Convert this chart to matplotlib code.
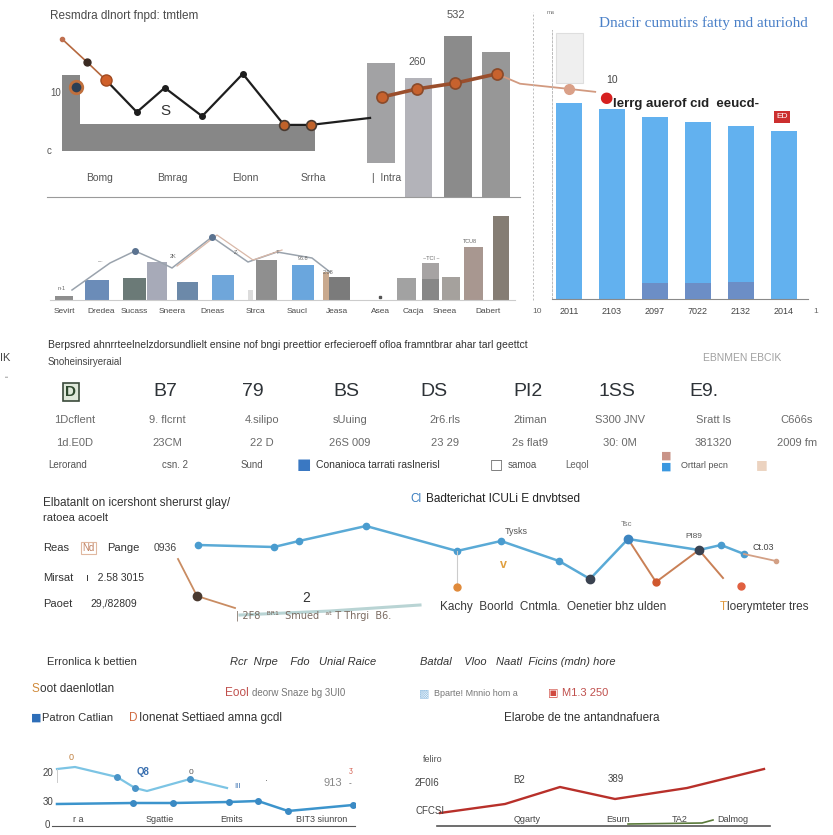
import matplotlib
matplotlib.use("Agg")
import matplotlib.pyplot as plt

plt.rcParams['font.family'] = ['Liberation Sans', 'DejaVu Sans']

W, H = 833, 835

# ---- panel A: grey bars with zigzag lines ----
a_bar_x = [0.51, 3.18, 7.06, 7.85, 8.69, 9.49]
a_bar_w = [0.38, 4.97, 0.59, 0.57, 0.59, 0.59]
a_bar_low = [0, 0, -2.1, -7.9, -7.9, -7.9]
a_bar_top = [13.1, 4.66, 15.2, 12.6, 19.8, 17.1]
a_bar_col = ['#878787', '#878787', '#a2a2a4', '#b3b3b9', '#8b8b8b', '#979797']
a_black_x = [1.25, 1.90, 2.49, 3.28, 4.14, 5.01, 5.58, 6.83]
a_black_y = [12.2, 6.7, 10.9, 6.0, 13.3, 4.5, 4.5, 5.7]
a_orange_l_x = [0.32, 0.85, 1.25]
a_orange_l_y = [19.3, 15.3, 12.2]
a_orange_r_x = [7.08, 7.82, 8.63, 9.51]
a_orange_r_y = [9.3, 10.7, 11.7, 13.3]
a_tail_x = [9.51, 10.0, 11.04, 11.59]
a_tail_y = [13.3, 11.6, 10.7, 10.2]
a_xlabels = ['Bomg', 'Bmrag', 'Elonn', 'Srrha', '|  Intra']

# ---- panel B: blue bars ----
b_years = ['2011', '2103', '2097', '7022', '2132', '2014']
b_values = [72.9, 70.6, 67.7, 65.8, 64.3, 62.5]
b_dark = [0, 0, 5.9, 5.9, 6.3, 0]
b_ghost_low = 80.3
b_ghost_top = 98.9

# ---- panel C: small bar strip ----
c_labels = ['Sevirt', 'Dredea', 'Sucass', 'Sneera', 'Dneas', 'Strca',
            'Saucl', 'Jeasa', 'Asea', 'Cacja', 'Sneea', 'Dabert']
c_pos = [1.4, 4.7, 8.45, 10.7, 13.75, 17.3, 20.05, 21.65, 25.25, 27.55,
         28.95, 35.65, 38.05, 40.1, 42.35, 45.05]
c_width = [1.8, 2.4, 2.3, 2.0, 2.1, 2.2, 0.5, 2.1, 2.2, 0.6, 2.1, 1.9, 1.7, 1.8, 1.9, 1.6]
c_values = [4, 20, 22, 38, 18, 25, 10, 40, 35, 28, 23, 22, 37, 23, 53, 84]
c_colors = ['#8e8e8e', '#6b8cb8', '#6b7a77', '#a7aab8', '#6c89a9', '#6fa6da', '#dcdcdc',
            '#8f8f8f', '#6aa6dd', '#c9a98e', '#7b7b7b', '#a2a2a2', '#a6a3a3', '#a5a19d',
            '#a89790', '#857d74']
c_line_x = [2.2, 6.0, 8.5, 11.0, 12.2, 16.2, 19.8, 22.7, 26.2, 28.0]
c_line_y = [10, 37, 49, 38, 32, 63, 38, 48, 42, 28]

# ---- panel E: long line chart ----
e_blue_x = [2.8, 10.4, 12.9, 19.6, 28.7, 33.1, 38.9, 42.0, 45.8, 52.9, 55.1, 57.4]
e_blue_y = [75, 73, 79, 94, 69, 79, 59, 41, 81, 70, 75, 66]
e_brown1_x = [0.8, 2.7, 6.5]
e_brown1_y = [61, 24, 12]
e_brown2_x = [45.8, 48.6, 52.9, 55.3]
e_brown2_y = [81, 38, 70, 42]
e_tail_x = [57.4, 60.6]
e_tail_y = [66, 59]
e_teal_x = [7.0, 16.0, 25.0]
e_teal_y = [5, 9, 15]

# ---- panel F: bottom charts ----
f_light_x = [5, 23, 65, 83, 95, 138, 175]
f_light_y = [57, 59, 49, 38, 35, 47, 38]
f_dark_x = [5, 81, 121, 177, 206, 236, 301]
f_dark_y = [22, 23, 23, 24, 25, 15, 21]
g_red_x = [3, 68, 123, 178, 250, 327]
g_red_y = [13, 22, 39, 27, 38, 57]
g_green_x = [191, 265, 276]
g_green_y = [2, 3, 6]

fig = plt.figure(figsize=(W / 100, H / 100), dpi=100)
fig.patch.set_facecolor('white')


def box(x0, y0, x1, y1):
    ax = fig.add_axes([x0 / W, 1 - y1 / H, (x1 - x0) / W, (y1 - y0) / H])
    ax.patch.set_alpha(0)
    for s in ax.spines.values():
        s.set_visible(False)
    ax.set_xticks([])
    ax.set_yticks([])
    return ax


def T(x, y, s, size=7.5, color='#3c3c3c', ha='left', **kw):
    fig.text(x / W, 1 - y / H, s, fontsize=size, color=color, ha=ha, va='center', **kw)


# panel A
ax = box(47, 30, 520, 197)
ax.set_xlim(0, 10)
ax.set_ylim(-7.93, 20.86)
for x, w, lo, hi, c in zip(a_bar_x, a_bar_w, a_bar_low, a_bar_top, a_bar_col):
    ax.bar(x, hi - lo, w, bottom=lo, color=c, zorder=1)
ax.plot(a_black_x, a_black_y, color='#1e1e1e', lw=1.6, zorder=3)
ax.plot(a_black_x[1:5], a_black_y[1:5], 'o', color='#1e1e1e', ms=4, zorder=4)
ax.plot(a_black_x[5:7], a_black_y[5:7], 'o', color='#c0622a', mec='#4a3a30', mew=1.2, ms=7, zorder=4)
ax.plot(a_orange_l_x, a_orange_l_y, color='#b5683e', lw=1.2, zorder=3)
ax.plot(a_orange_l_x[0], a_orange_l_y[0], 'o', color='#c07050', ms=3, zorder=4)
ax.plot(a_orange_l_x[1], a_orange_l_y[1], 'o', color='#3a2a22', ms=5, zorder=4)
ax.plot(a_orange_l_x[2], a_orange_l_y[2], 'o', color='#d0602a', mec='#a04a20', ms=8, zorder=4)
ax.plot(0.61, 11.0, 'o', color='#2d3f55', mec='#c0703e', mew=2, ms=9, zorder=4)
ax.plot(a_tail_x, a_tail_y, color='#d29a80', lw=1.3, zorder=2, clip_on=False)
ax.plot(a_tail_x[2], a_tail_y[2], 'o', color='#daa088', ms=7, zorder=3, clip_on=False)
ax.plot(a_orange_r_x, a_orange_r_y, color='#9a4e2c', lw=2.6, zorder=3)
ax.plot(a_orange_r_x, a_orange_r_y, 'o', color='#c7622e', mec='#8a4a2a', mew=1.2, ms=8, zorder=4)
ax.spines['bottom'].set_visible(True)
ax.spines['bottom'].set_color('#9a9a9a')

T(50, 16, 'Resmdra dlnort fnpd: tmtlem', size=8.5, color='#4a4a4a')
T(456, 15, '532', size=8, ha='center', color='#555555')
T(417, 62, '260', size=7.5, ha='center', color='#555555')
T(165, 111, 'S', size=11, ha='center', color='#333333')
T(50, 93, '10', size=7, color='#555555')
T(47, 151, 'c', size=7, color='#555555')
for x, s in zip([100, 172, 245, 313, 387], a_xlabels):
    T(x, 178, s, size=7.5, ha='center', color='#555555')

# panel B
ax = box(552, 30, 808, 299)
ax.set_xlim(-0.4, 5.55)
ax.set_ylim(0, 100)
xs = range(len(b_years))
ax.bar(0, b_ghost_top - b_ghost_low, 0.62, bottom=b_ghost_low,
       color='#efefef', edgecolor='#dedede', lw=0.8, zorder=1)
ax.bar(xs, b_values, 0.6, color='#62b1ef', zorder=2)
ax.bar(xs, b_dark, 0.6, color='#6c8ec6', zorder=3)
ax.spines['bottom'].set_visible(True)
ax.spines['bottom'].set_color('#8a8a8a')
ax.spines['left'].set_visible(True)
ax.spines['left'].set_color('#bbbbbb')
ax.spines['left'].set_linestyle((0, (2, 2)))
ax.spines['left'].set_linewidth(0.7)
line = plt.Line2D([533 / W, 533 / W], [1 - 300 / H, 1 - 12 / H], transform=fig.transFigure,
                  color='#bbbbbb', lw=0.7, ls=(0, (2, 2)))
fig.add_artist(line)
T(703, 23, 'Dnacir cumutirs fatty md aturiohd', size=11, ha='center', color='#4a80c8',
  family='Liberation Serif')
T(551, 13, 'ms', size=4.5, ha='center', color='#777777')
T(606, 80, '10', size=7.5, color='#444444')
T(599, 98, '\u25cf', size=11, color='#d62020', family='DejaVu Sans')
T(613, 104, 'lerrg auerof c\u0131d  eeucd-', size=9.5, color='#222222', weight='bold')
T(782, 117, 'ED', size=6, ha='center', color='white',
  bbox=dict(boxstyle='square,pad=0.25', fc='#cc2f2f', ec='none'))
for i, s in enumerate(b_years):
    T(569 + i * 43, 311, s, size=6.5, ha='center', color='#444444')
T(537, 311, '10', size=6, ha='center', color='#666666')
T(816, 311, '1', size=6, ha='center', color='#666666')

# panel C
ax = box(50, 205, 515, 300)
ax.set_xlim(0, 46.5)
ax.set_ylim(0, 95)
ax.bar(c_pos, c_values, c_width, color=c_colors, zorder=2)
ax.bar(c_pos[12], 21, c_width[12], color='#878787', zorder=3)
ax.plot(c_line_x, c_line_y, color='#9aa3ad', lw=1.1, zorder=4)
ax.plot([v + 0.5 for v in c_line_x[4:8]], [v + 2 for v in c_line_y[4:8]], color='#d9b8a8', lw=0.9, zorder=4)
ax.plot([c_line_x[2], c_line_x[5]], [c_line_y[2], c_line_y[5]], 'o', color='#5b7390', ms=4, zorder=5)
ax.plot(33.0, 3, 's', color='#555555', ms=1.5)
ax.spines['bottom'].set_visible(True)
ax.spines['bottom'].set_color('#cccccc')
for x, y, s in [(62, 289, 'n\u00b71'), (100, 262, '\u2012\u00b7'), (173, 257, '2K'),
                (236, 253, 'Z\u00b7'), (276, 252, '\u00b7 T'), (303, 258, '96.8'),
                (328, 272, '2.08'), (431, 258, '~TCI ~'), (470, 241, 'TCU8')]:
    T(x, y, s, size=4, ha='center', color='#666666')
for x, s in zip([64, 101, 134, 172, 212, 255, 297, 337, 380, 413, 445, 488], c_labels):
    T(x, 311, s, size=6, ha='center', color='#4a4a4a')

# panel D: text table
T(48, 345, 'Berpsred ahnrrteelnelzdorsundlielt ensine nof bngi preettior erfecieroeff '
  'ofloa framntbrar ahar tarl geettct', size=7.5, color='#333333')
T(48, 362, 'Snoheinsiryeraial', size=7, color='#444444')
T(742, 358, 'EBNMEN EBCIK', size=7.5, ha='center', color='#a0a0a0')
T(0, 358, 'IK', size=8, color='#444444')
T(5, 378, '\u2022\u2022', size=4, color='#888888')
T(71, 392, 'D', size=11, ha='center', color='#2f4a2f', weight='bold',
  bbox=dict(boxstyle='square,pad=0.15', fc='#dfe8da', ec='#3b4a3b', lw=1.2))
big = ['B7', '79', 'BS', 'DS', 'PI2', '1SS', 'E9.']
for x, s in zip([165, 253, 346, 434, 528, 617, 704], big):
    T(x, 392, s, size=14, ha='center', color='#2e3338')
row2 = ['1Dcflent', '9. flcrnt', '4.silipo', 'sUuing', '2r6.rls', '2timan', 'S300 JNV', 'Sratt ls', 'C6\u00f46s']
row3 = ['1d.E0D', '23CM', '22 D', '26S 009', '23 29', '2s flat9', '30: 0M', '381320', '2009 fm']
for x, s, t in zip([75, 167, 262, 350, 445, 530, 620, 713, 797], row2, row3):
    T(x, 420, s, size=8, ha='center', color='#6a6a6a')
    T(x, 443, t, size=8, ha='center', color='#6a6a6a')
T(48, 465, 'Lerorand', size=7, color='#555555')
T(162, 465, 'csn. 2', size=7, color='#555555')
T(241, 465, 'Sund', size=7, color='#555555')
T(297, 465, '\u25a0', size=11, color='#3a78c2', family='DejaVu Sans')
T(316, 465, 'Conanioca tarrati raslnerisl', size=7.5, color='#333333')
T(490, 464, '\u25a1', size=10, color='#666666', family='DejaVu Sans')
T(508, 465, 'samoa', size=7, color='#555555')
T(565, 465, 'Leqol', size=7, color='#666666')
T(661, 456, '\u25a0', size=8, color='#c99488', family='DejaVu Sans')
T(661, 467, '\u25a0', size=8, color='#3a98e0', family='DejaVu Sans')
T(681, 466, 'Orttarl pecn', size=6.5, color='#555555')
T(756, 465, '\u25a0', size=9, color='#ecd3c0', family='DejaVu Sans')

# panel E
ax = box(170, 515, 790, 620)
ax.set_xlim(0, 62)
ax.set_ylim(0, 105)
ax.plot(e_teal_x, e_teal_y, color='#b9d4d4', lw=2.2)
ax.plot(e_brown1_x, e_brown1_y, color='#c98c62', lw=1.3)
ax.plot(e_brown1_x[1], e_brown1_y[1], 'o', color='#4a3a30', ms=6)
ax.plot(e_brown2_x, e_brown2_y, color='#c98056', lw=1.4)
ax.plot(e_blue_x, e_blue_y, color='#5aaad6', lw=1.8)
ax.plot(e_blue_x, e_blue_y, 'o', color='#4a9ccf', ms=4.5)
ax.plot(e_tail_x, e_tail_y, color='#d3a085', lw=1.3)
ax.plot(e_tail_x[1], e_tail_y[1], 'o', color='#d3a085', ms=3)
ax.plot([42.0, 52.9], [41, 70], 'o', color='#3a4250', ms=6)
ax.plot(48.6, 38, 'o', color='#d0582e', ms=5)
ax.plot([28.7, 28.7], [69, 33], color='#cccccc', lw=0.8)
ax.plot(28.7, 33, 'o', color='#e08a3a', ms=5)
ax.plot(57.1, 34, 'o', color='#e06040', ms=5)
ax.plot(45.8, 81, 'o', color='#3d85c0', ms=6)
T(503, 565, 'v', size=9, ha='center', color='#e0a040', weight='bold')
T(43, 503, 'Elbatanlt on icershont sherurst glay/', size=8.5, color='#333333')
T(43, 518, 'ratoea acoelt', size=8, color='#333333')
T(43, 548, 'Reas', size=8, color='#333333')
T(82, 548, 'Nd', size=7, color='#c08060',
  bbox=dict(boxstyle='square,pad=0.15', fc='white', ec='#e0b8a0', lw=0.8))
T(107, 548, 'Pange', size=8, color='#333333')
T(154, 548, '0936', size=7.5, color='#444444')
T(43, 578, 'Mirsat', size=8, color='#333333')
T(86, 578, '\u0131   2.58 3015', size=7.5, color='#333333')
T(43, 604, 'Paoet', size=8, color='#333333')
T(90, 604, '29,/82809', size=7.5, color='#333333')
T(410, 499, 'Cl', size=8.5, color='#3c7fc0')
T(426, 499, 'Badterichat ICULi E dnvbtsed', size=8.5, color='#222222')
T(306, 598, '2', size=10, ha='center', color='#333333')
T(236, 616, '| 2F8  \u1d2e\u1d3f\u00b9  Smued  \u1d43\u1d57 T Thrgi  B6.', size=7, color='#7a6a60',
  family=['DejaVu Sans'])
T(440, 607, 'Kachy  Boorld  Cntmla.  Oenetier bhz ulden', size=8.5, color='#3a3a3a')
T(720, 607, 'T', size=8.5, color='#e09a40')
T(727, 607, 'loerymteter tres', size=8.5, color='#3a3a3a')
T(505, 532, 'Tysks', size=6.5, color='#555555')
T(627, 524, 'Tsc', size=5.5, ha='center', color='#777777')
T(694, 537, 'Pl89', size=6, ha='center', color='#555555')
T(763, 547, 'Ct.03', size=6.5, ha='center', color='#444444')

# panel F text block
T(47, 662, 'Erronlica k bettien', size=8, color='#333333')
T(230, 662, 'Rcr  Nrpe    Fdo   Unial Raice', size=8, color='#333333', style='italic')
T(420, 662, 'Batdal    Vloo   Naatl  Ficins (mdn) hore', size=8, color='#333333', style='italic')
T(32, 689, 'S', size=8.5, color='#d08a3a')
T(40, 689, 'oot daenlotlan', size=8.5, color='#333333')
T(225, 693, 'Eool', size=8.5, color='#c0504d')
T(252, 693, 'deorw Snaze bg 3UI0', size=7, color='#777777')
T(419, 693, '\u25a9', size=8, color='#9cc4e4', family='DejaVu Sans')
T(434, 693, 'Bparte! Mnnio hom a', size=6.5, color='#777777')
T(548, 693, '\u25a3', size=8, color='#d04a40', family='DejaVu Sans')
T(562, 693, 'M1.3 250', size=8, color='#c0504d')
T(31, 718, '\u25a0', size=8, color='#2e6eb8', family='DejaVu Sans')
T(42, 718, 'Patron Catlian', size=8, color='#333333')
T(129, 718, 'D', size=8.5, color='#d06a40')
T(139, 718, 'Ionenat Settiaed amna gcdl', size=8.5, color='#333333')
T(582, 718, 'Elarobe de tne antandnafuera', size=8.5, ha='center', color='#333333')

# bottom left chart
ax = box(52, 750, 355, 826)
ax.set_xlim(0, 303)
ax.set_ylim(0, 76)
ax.plot(f_light_x, f_light_y, color='#7cc4e4', lw=1.6)
ax.plot([f_light_x[2], f_light_x[3], f_light_x[5]], [f_light_y[2], f_light_y[3], f_light_y[5]],
        'o', color='#4a94c8', ms=4)
ax.plot(f_dark_x, f_dark_y, color='#3c94cc', lw=1.8)
ax.plot(f_dark_x[1:], f_dark_y[1:], 'o', color='#3a8ac4', ms=4)
ax.plot([5, 5], [57, 44], color='#cccccc', lw=0.7)
ax.spines['bottom'].set_visible(True)
ax.spines['bottom'].set_color('#555555')
T(43, 773, '20', size=7, color='#444444')
T(43, 802, '30', size=7, color='#444444')
T(45, 825, '0', size=7, color='#444444')
T(71, 758, '0', size=6.5, ha='center', color='#c08040')
T(143, 772, 'Q8', size=7, ha='center', color='#3a70b0', weight='bold')
T(191, 772, '0', size=6, ha='center', color='#555555')
T(237, 786, 'III', size=5.5, ha='center', color='#3a70b0')
T(266, 782, '\u00b7', size=6, ha='center', color='#444444')
T(333, 783, '913', size=8, ha='center', color='#888888')
T(351, 771, '\u0292', size=5, ha='center', color='#d05040')
T(350, 784, '-', size=6, ha='center', color='#555555')
for x, s in zip([78, 160, 232, 322], ['r a', 'Sgattie', 'Emits', 'BIT3 siunron']):
    T(x, 819, s, size=6.5, ha='center', color='#444444')

# bottom right chart
ax = box(437, 750, 770, 826)
ax.set_xlim(0, 333)
ax.set_ylim(0, 76)
ax.plot(g_red_x, g_red_y, color='#b8302a', lw=1.7)
ax.plot(g_green_x, g_green_y, color='#5a7a3a', lw=1.2)
ax.spines['bottom'].set_visible(True)
ax.spines['bottom'].set_color('#555555')
ax.spines['bottom'].set_linewidth(1.2)
T(423, 759, 'feliro', size=6.5, color='#555555')
T(415, 783, '2F0I6', size=7, color='#444444')
T(415, 811, 'CFCSI', size=7, color='#444444')
T(519, 780, 'B2', size=7, ha='center', color='#444444')
T(616, 779, '389', size=7, ha='center', color='#444444')
for x, s in zip([527, 618, 680, 733], ['Qgarty', 'Esurn', 'TA2', 'Dalmog']):
    T(x, 819, s, size=6.5, ha='center', color='#444444')

fig.savefig('out.png', dpi=100, facecolor='white')
